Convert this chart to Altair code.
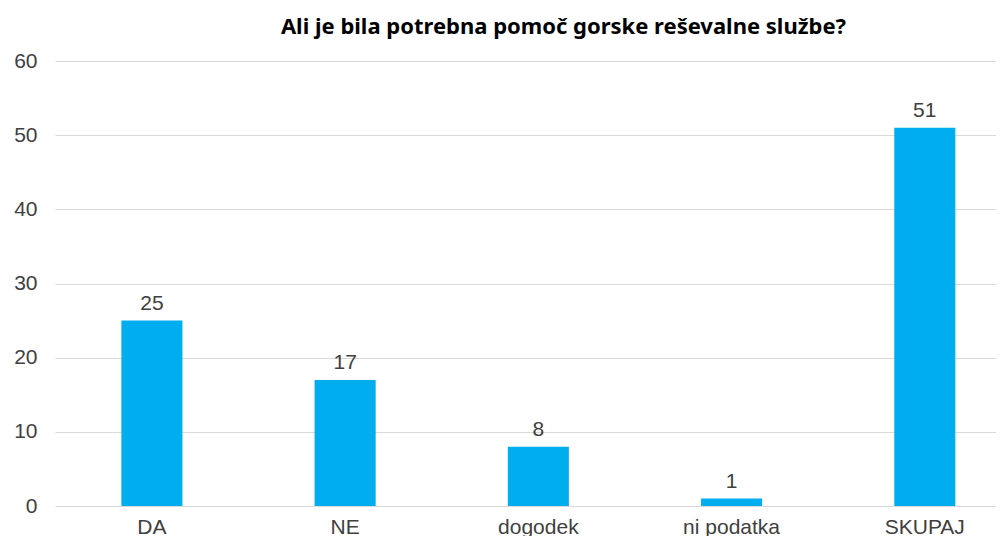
import altair as alt
import pandas as pd

categories = ["DA", "NE", "dogodek", "ni podatka", "SKUPAJ"]
values = [25, 17, 8, 1, 51]
title_text = "Ali je bila potrebna pomoč gorske reševalne službe?"

df = pd.DataFrame({"cat": categories, "val": values})

x_enc = alt.X("cat:N", sort=categories, title=None,
              scale=alt.Scale(paddingInner=0.684, paddingOuter=0.277, align=0.62),
              axis=alt.Axis(labelAngle=0, labelFont="Liberation Sans", labelFontSize=21,
                            labelColor="#404040", labelPadding=10, ticks=False,
                            domain=False, grid=False))
y_enc = alt.Y("val:Q", title=None,
              scale=alt.Scale(domain=[0, 60], nice=False),
              axis=alt.Axis(values=[0, 10, 20, 30, 40, 50, 60], labelFont="Liberation Sans",
                            labelFontSize=21, labelColor="#404040", labelPadding=18,
                            ticks=False, domain=False, gridColor="#d9d9d9", gridWidth=1.2))

bars = alt.Chart(df).mark_bar(color="#00AEEF").encode(x=x_enc, y=y_enc)
text = alt.Chart(df).mark_text(baseline="bottom", dy=-7, font="Liberation Sans",
                               fontSize=21, color="#404040").encode(
    x=alt.X("cat:N", sort=categories), y="val:Q", text="val:Q")

chart = (bars + text).properties(
    width=941, height=445,
    background="white",
    title=alt.TitleParams(title_text, font="Noto Sans", fontSize=22, fontWeight="bold",
                          color="#000000", anchor="middle", dx=38, offset=11),
    autosize=alt.AutoSizeParams(type="none"),
    padding={"left": 47, "top": 53, "right": 0, "bottom": 30},
).configure_view(strokeWidth=0, stroke="transparent")

chart.save("out.html", embed_options={"renderer": "svg", "actions": False})
